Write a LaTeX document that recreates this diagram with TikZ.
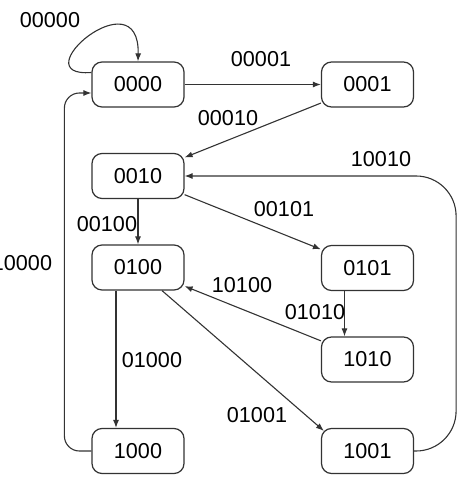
\documentclass[tikz,border=0pt]{standalone}
\usepackage{fontspec}
\setmainfont{Liberation Sans}
\usetikzlibrary{arrows.meta,positioning}

\begin{document}
\begin{tikzpicture}[
  x=1pt, y=-1pt,
  font=\fontsize{21.6}{26}\selectfont,
  st/.style={draw=black!80, rounded corners=10pt, minimum width=92pt,
    minimum height=45pt, line width=1.2pt},
  d/.style={-{Latex[length=8pt,width=6pt]}, line width=1.1pt, black!80}
]
\useasboundingbox (0,0) rectangle (457,484);
% states
\node[st] (a) at (138,84.5) {0000};
\node[st] (b) at (367.5,84.5) {0001};
\node[st] (c) at (138,176) {0010};
\node[st] (d) at (138,267.5) {0100};
\node[st] (e) at (367.5,268) {0101};
\node[st] (f) at (367.5,359.5) {1010};
\node[st] (g) at (138,451) {1000};
\node[st] (h) at (367.5,451) {1001};
% transitions
\draw[d] ([yshift=12pt]a.west) .. controls (20,78) and (140,-25) .. (a.north);
\draw[d] (a) -- (b);
\draw[d] (b) -- (c);
\draw[d] (c) -- (d);
\draw[d] (c) -- (e);
\draw[d] ([xshift=-22pt]d.south) -- ([xshift=-22pt]g.north);
\draw[d] ([xshift=24pt]d.south) -- ([shift={(3pt,-3pt)}]h.north west);
\draw[d] (f) -- (d);
\draw[d] ([xshift=-23pt]e.south) -- ([xshift=-23pt]f.north);
\draw[d, rounded corners=15pt] (g.west) -- ++(-27,0) |- ([yshift=-8.5pt]a.west);
\draw[d, rounded corners=40pt] (h.east) -- ++(42,0) |- (c.east);
% labels
\node (t00000) at (50,20) {00000};
\node (t00001) at (261,59) {00001};
\node (t00010) at (228,118) {00010};
\node (t10010) at (381,159) {10010};
\node (t00101) at (284,209) {00101};
\node (t00100) at (107,224) {00100};
\node (t10000) at (22,263) {10000};
\node (t10100) at (242,285) {10100};
\node (t01010) at (315,312) {01010};
\node (t01000) at (152,360) {01000};
\node (t01001) at (257,415) {01001};
\end{tikzpicture}
\end{document}
